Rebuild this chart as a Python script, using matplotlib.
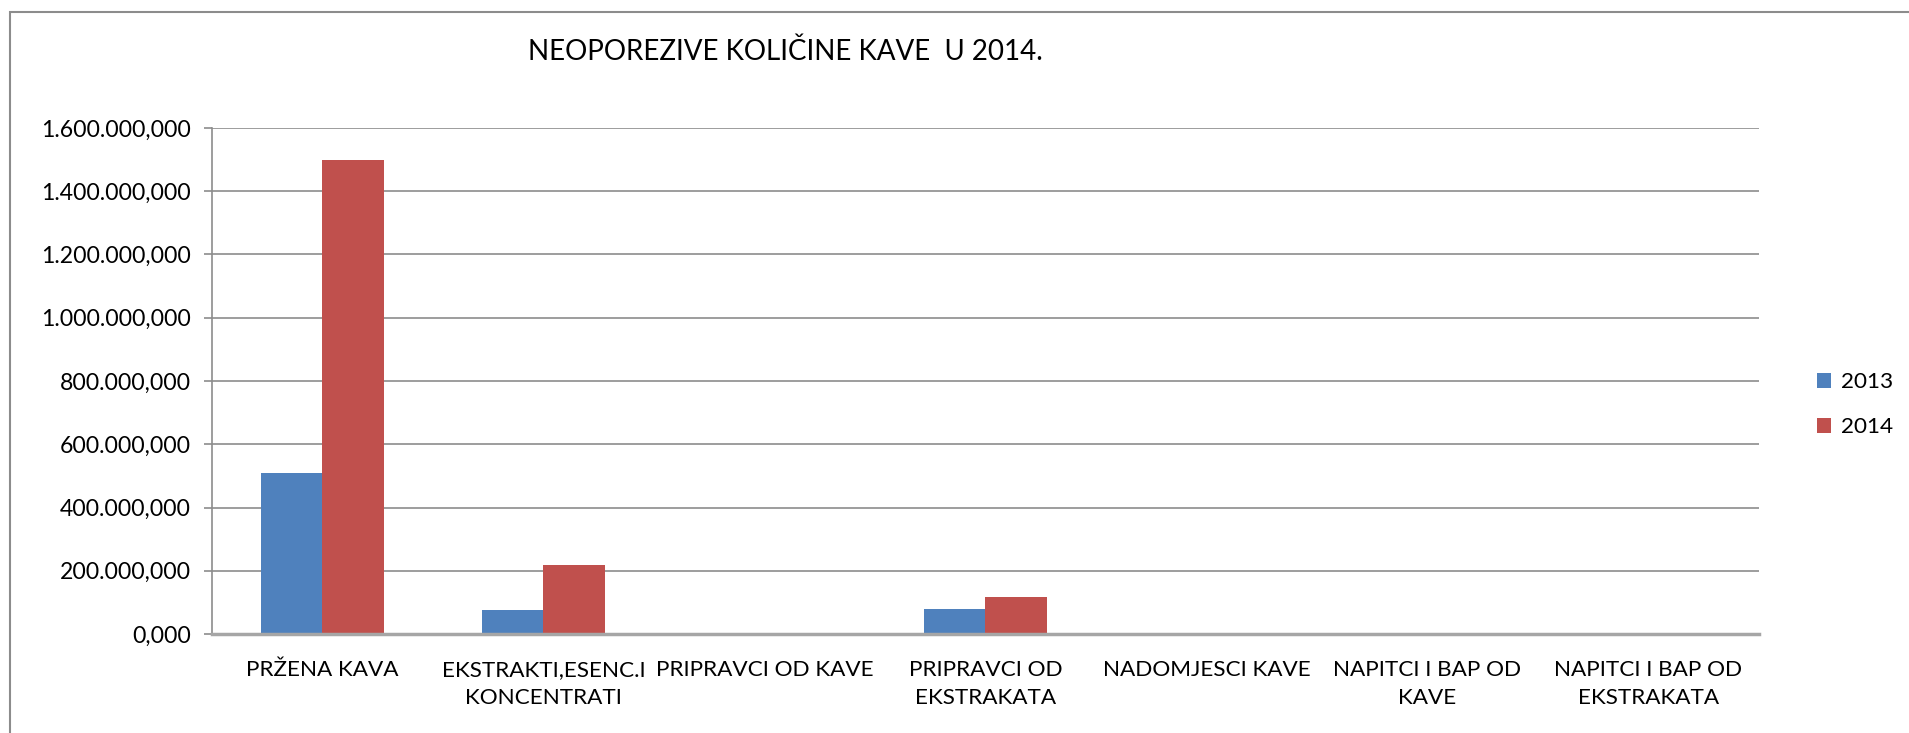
import matplotlib
matplotlib.use("Agg")
import matplotlib.pyplot as plt
import numpy as np
from matplotlib.patches import Rectangle
from matplotlib.ticker import FuncFormatter

plt.rcParams["font.family"] = ["Lato", "DejaVu Sans"]

title = "NEOPOREZIVE KOLIČINE KAVE  U 2014."
categories = [
    "PRŽENA KAVA",
    "EKSTRAKTI,ESENC.I\nKONCENTRATI",
    "PRIPRAVCI OD KAVE",
    "PRIPRAVCI OD\nEKSTRAKATA",
    "NADOMJESCI KAVE",
    "NAPITCI I BAP OD\nKAVE",
    "NAPITCI I BAP OD\nEKSTRAKATA",
]
series_names = ["2013", "2014"]
values_2013 = [508000, 76000, 1000, 79000, 800, 0, 800]
values_2014 = [1498000, 219000, 600, 118000, 600, 0, 600]
colors = ["#4F81BD", "#C0504D"]
grid_color = "#8C8C8C"


def eu_fmt(v, _pos):
    s = f"{v:,.3f}"
    return s.replace(",", "X").replace(".", ",").replace("X", ".")


fig = plt.figure(figsize=(19.09, 7.33), dpi=100)
ax = fig.add_axes([0.111, 0.135, 0.8104, 0.6904])

x = np.arange(len(categories))
w = 0.28
ax.bar(x - w / 2, values_2013, w, color=colors[0], label=series_names[0])
ax.bar(x + w / 2, values_2014, w, color=colors[1], label=series_names[1])

ax.set_xlim(-0.5, len(categories) - 0.5)
ax.set_ylim(0, 1.6e6)
ax.set_yticks(np.arange(0, 1.6e6 + 1, 2e5))
ax.yaxis.set_major_formatter(FuncFormatter(eu_fmt))
ax.grid(axis="y", color=grid_color, linewidth=1.2)
ax.set_axisbelow(True)

ax.set_xticks(x)
ax.set_xticklabels(categories, fontsize=16.2, linespacing=1.45, va="top")
ax.tick_params(axis="x", length=0, pad=19)
ax.tick_params(axis="y", length=6, color=grid_color, width=1.2, labelsize=16.6, pad=9)

for side in ["top", "right"]:
    ax.spines[side].set_visible(False)
ax.spines["left"].set_color(grid_color)
ax.spines["left"].set_linewidth(1.2)
ax.spines["bottom"].set_color("#A6A6A6")
ax.spines["bottom"].set_linewidth(2.5)

fig.text(0.4115, 0.93, title, ha="center", va="center", fontsize=20)

fig.legend(loc="center left", bbox_to_anchor=(0.941, 0.448), frameon=False,
           fontsize=16.2, handlelength=0.65, handleheight=0.65, handletextpad=0.45,
           labelspacing=1.1)

# outer chart border
fig.patches.append(Rectangle((10 / 1909, -0.1), 1.2, 1 - 12 / 733 + 0.1,
                             transform=fig.transFigure, fill=False,
                             edgecolor="#8C8C8C", linewidth=1.5))

fig.savefig("out.png", dpi=100)
